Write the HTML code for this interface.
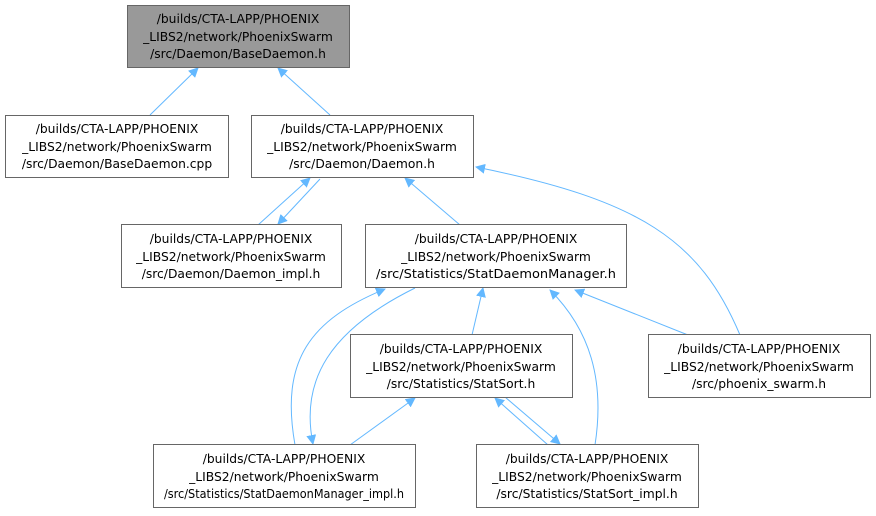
<!DOCTYPE html>
<html><head><meta charset="utf-8"><style>
body{margin:0;background:#fff;}
text{font-family:"DejaVu Sans","Liberation Sans",sans-serif;font-size:12.3px;fill:#000;}
</style></head><body>
<svg width="876" height="511" viewBox="0 0 876 511" xmlns="http://www.w3.org/2000/svg">
<defs><marker id="a" markerWidth="10" markerHeight="10" refX="9" refY="5" orient="auto" markerUnits="userSpaceOnUse"><path d="M0,0 L10,5 L0,10 z" fill="#63b8ff"/></marker></defs>
<g fill="none" stroke="#63b8ff" stroke-width="1" marker-end="url(#a)">
<path d="M150,115 L198,68"/>
<path d="M330,115 L278,68"/>
<path d="M258,225 L310,178"/>
<path d="M320,179 L278,224"/>
<path d="M460,225 L405,178"/>
<path d="M740,335 C700,240 640,200 476,167"/>
<path d="M472,335 L483,288"/>
<path d="M688,335 L575,290"/>
<path d="M295,445 C280,360 310,320 385,289"/>
<path d="M415,288 C330,330 300,380 313,444"/>
<path d="M595,445 C605,380 590,330 550,290"/>
<path d="M350,445 L415,398"/>
<path d="M548,445 L495,398"/>
<path d="M505,397 L560,444"/>
</g>
<g stroke="#666" stroke-width="1" fill="#fff">
<rect x="127.5" y="5.5" width="222" height="62" fill="#999"/>
<rect x="5.5" y="115.5" width="223" height="62"/>
<rect x="251.5" y="115.5" width="222" height="62"/>
<rect x="121.5" y="224.5" width="220" height="63"/>
<rect x="365.5" y="224.5" width="261" height="63"/>
<rect x="350.5" y="334.5" width="222" height="63"/>
<rect x="648.5" y="334.5" width="222" height="63"/>
<rect x="153.5" y="444.5" width="262" height="63"/>
<rect x="476.5" y="444.5" width="222" height="63"/>
</g>
<g text-anchor="middle">
<text x="238" y="23">/builds/CTA-LAPP/PHOENIX</text><text x="238" y="41">_LIBS2/network/PhoenixSwarm</text><text x="238" y="58">/src/Daemon/BaseDaemon.h</text>
<text x="117" y="133">/builds/CTA-LAPP/PHOENIX</text><text x="117" y="151">_LIBS2/network/PhoenixSwarm</text><text x="117" y="168">/src/Daemon/BaseDaemon.cpp</text>
<text x="362" y="133">/builds/CTA-LAPP/PHOENIX</text><text x="362" y="151">_LIBS2/network/PhoenixSwarm</text><text x="362" y="168">/src/Daemon/Daemon.h</text>
<text x="231" y="243">/builds/CTA-LAPP/PHOENIX</text><text x="231" y="261">_LIBS2/network/PhoenixSwarm</text><text x="231" y="278">/src/Daemon/Daemon_impl.h</text>
<text x="496" y="243">/builds/CTA-LAPP/PHOENIX</text><text x="496" y="261">_LIBS2/network/PhoenixSwarm</text><text x="496" y="278" textLength="240" lengthAdjust="spacingAndGlyphs">/src/Statistics/StatDaemonManager.h</text>
<text x="461" y="353">/builds/CTA-LAPP/PHOENIX</text><text x="461" y="371">_LIBS2/network/PhoenixSwarm</text><text x="461" y="388">/src/Statistics/StatSort.h</text>
<text x="759" y="353">/builds/CTA-LAPP/PHOENIX</text><text x="759" y="371">_LIBS2/network/PhoenixSwarm</text><text x="759" y="388">/src/phoenix_swarm.h</text>
<text x="284" y="463">/builds/CTA-LAPP/PHOENIX</text><text x="284" y="481">_LIBS2/network/PhoenixSwarm</text><text x="284" y="498" textLength="240" lengthAdjust="spacingAndGlyphs">/src/Statistics/StatDaemonManager_impl.h</text>
<text x="587" y="463">/builds/CTA-LAPP/PHOENIX</text><text x="587" y="481">_LIBS2/network/PhoenixSwarm</text><text x="587" y="498">/src/Statistics/StatSort_impl.h</text>
</g>
</svg>
</body></html>
